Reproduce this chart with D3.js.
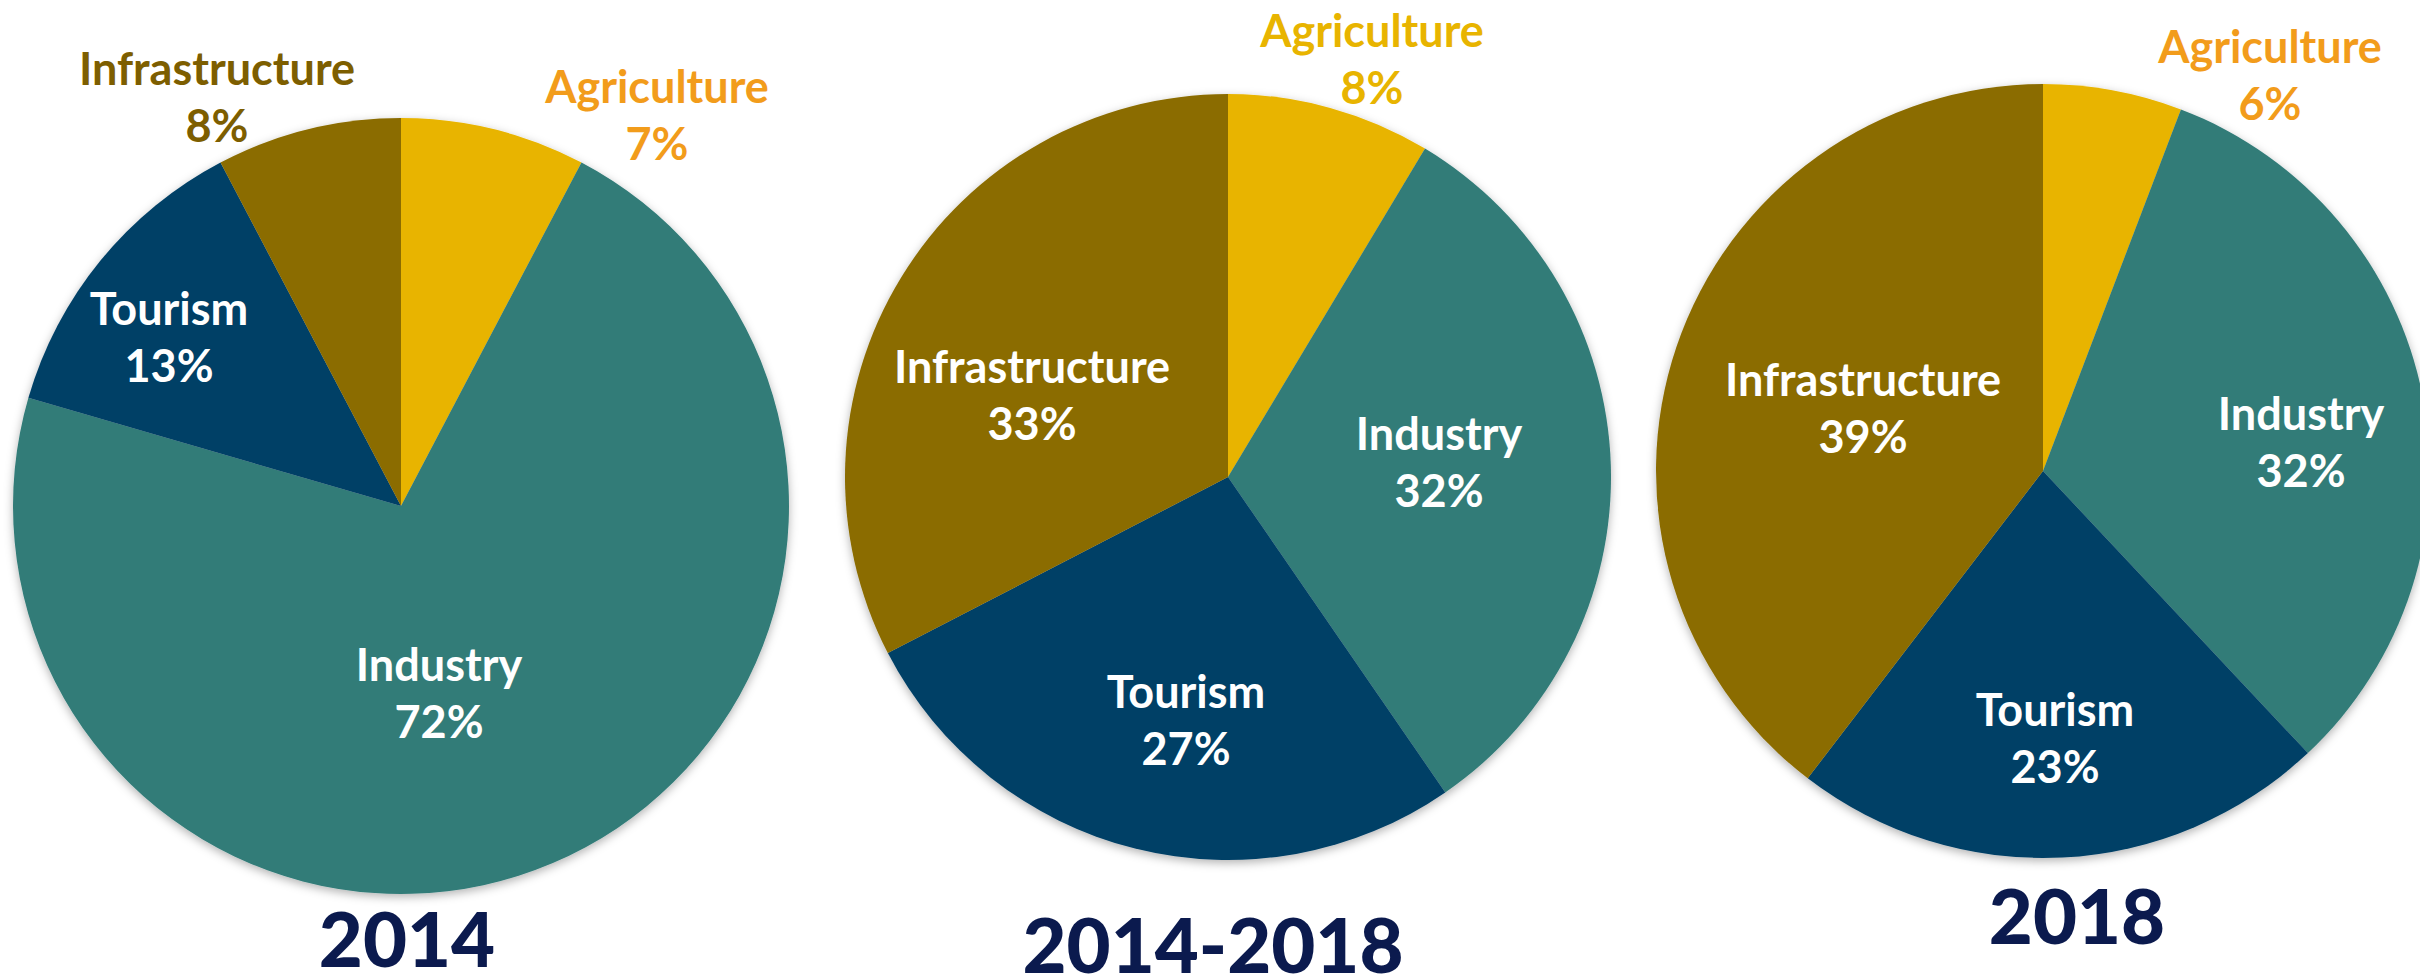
<!DOCTYPE html>
<html>
<head>
<meta charset="utf-8">
<script src="https://cdn.jsdelivr.net/npm/d3@7"></script>
<style>
  html, body { margin: 0; padding: 0; background: #ffffff; }
  svg { display: block; }
  text { font-family: Lato, "Open Sans", sans-serif; font-weight: 700; }
  text.title { font-weight: 900; }
</style>
</head>
<body>
<script>
// ---------- DATA ----------
const categories = ["Agriculture", "Industry", "Tourism", "Infrastructure"];
const titles = ["2014", "2014-2018", "2018"];
// slice shares as drawn (percent)
const share2014 = [7.7, 71.8, 12.8, 7.7];
const share2014_2018 = [8.6, 31.8, 27.0, 32.6];
const share2018 = [5.8, 32.2, 22.4, 39.6];
// printed percentage labels
const pct2014 = ["7%", "72%", "13%", "8%"];
const pct2014_2018 = ["8%", "32%", "27%", "33%"];
const pct2018 = ["6%", "32%", "23%", "39%"];

// ---------- STYLE / LAYOUT ----------
const W = 2420, H = 979;
const sliceColors = ["#E8B400", "#327B78", "#034066", "#8B6C00"];
const titleColor = "#0B1A4E";
const fontSize = 45, lineGap = 57, titleSize = 76;

const layouts = [
  { cx: 401, cy: 506, r: 388, title: [407, 967],
    labels: [[256, -403, "#F29C1B"], [38, 175, "#ffffff"], [-232, -181, "#ffffff"], [-184, -421, "#7D5E00"]] },
  { cx: 1228, cy: 477, r: 383, title: [1213, 973],
    labels: [[144, -430, "#E8B400"], [211, -27, "#ffffff"], [-42, 231, "#ffffff"], [-196, -94, "#ffffff"]] },
  { cx: 2043, cy: 471, r: 387, title: [2077, 944],
    labels: [[227, -408, "#F29C1B"], [258, -41, "#ffffff"], [12, 255, "#ffffff"], [-180, -75, "#ffffff"]] }
];

const charts = [
  { title: titles[0], shares: share2014, pcts: pct2014 },
  { title: titles[1], shares: share2014_2018, pcts: pct2014_2018 },
  { title: titles[2], shares: share2018, pcts: pct2018 }
];

const svg = d3.select("body").append("svg")
  .attr("width", W).attr("height", H).attr("viewBox", `0 0 ${W} ${H}`);

const defs = svg.append("defs");
const f = defs.append("filter").attr("id", "shadow")
  .attr("x", "-10%").attr("y", "-10%").attr("width", "120%").attr("height", "120%");
f.append("feDropShadow").attr("dx", 0).attr("dy", 3).attr("stdDeviation", 5)
  .attr("flood-color", "#000").attr("flood-opacity", 0.3);

const color = d3.scaleOrdinal().domain(categories).range(sliceColors);
const pie = d3.pie().sort(null).value(d => d.value).startAngle(0).endAngle(2 * Math.PI);

charts.forEach((c, i) => {
  const L = layouts[i];
  const data = categories.map((cat, j) => ({ cat, value: c.shares[j], pct: c.pcts[j], j }));
  const arc = d3.arc().innerRadius(0).outerRadius(L.r);

  const g = svg.append("g").attr("transform", `translate(${L.cx},${L.cy})`);
  const slices = g.append("g").attr("filter", "url(#shadow)");
  slices.selectAll("path").data(pie(data)).join("path")
    .attr("d", arc)
    .attr("fill", d => color(d.data.cat));

  const lbl = g.selectAll("text.lbl").data(data).join("text")
    .attr("class", "lbl")
    .attr("text-anchor", "middle")
    .attr("font-size", fontSize)
    .attr("fill", d => L.labels[d.j][2])
    .attr("transform", d => `translate(${L.labels[d.j][0]},${L.labels[d.j][1]})`);
  lbl.append("tspan").attr("x", 0).attr("y", 0).text(d => d.cat);
  lbl.append("tspan").attr("x", 0).attr("y", lineGap).text(d => d.pct);

  svg.append("text")
    .attr("class", "title")
    .attr("x", L.title[0]).attr("y", L.title[1])
    .attr("text-anchor", "middle")
    .attr("font-size", titleSize)
    .attr("fill", titleColor)
    .text(c.title);
});
</script>
</body>
</html>
